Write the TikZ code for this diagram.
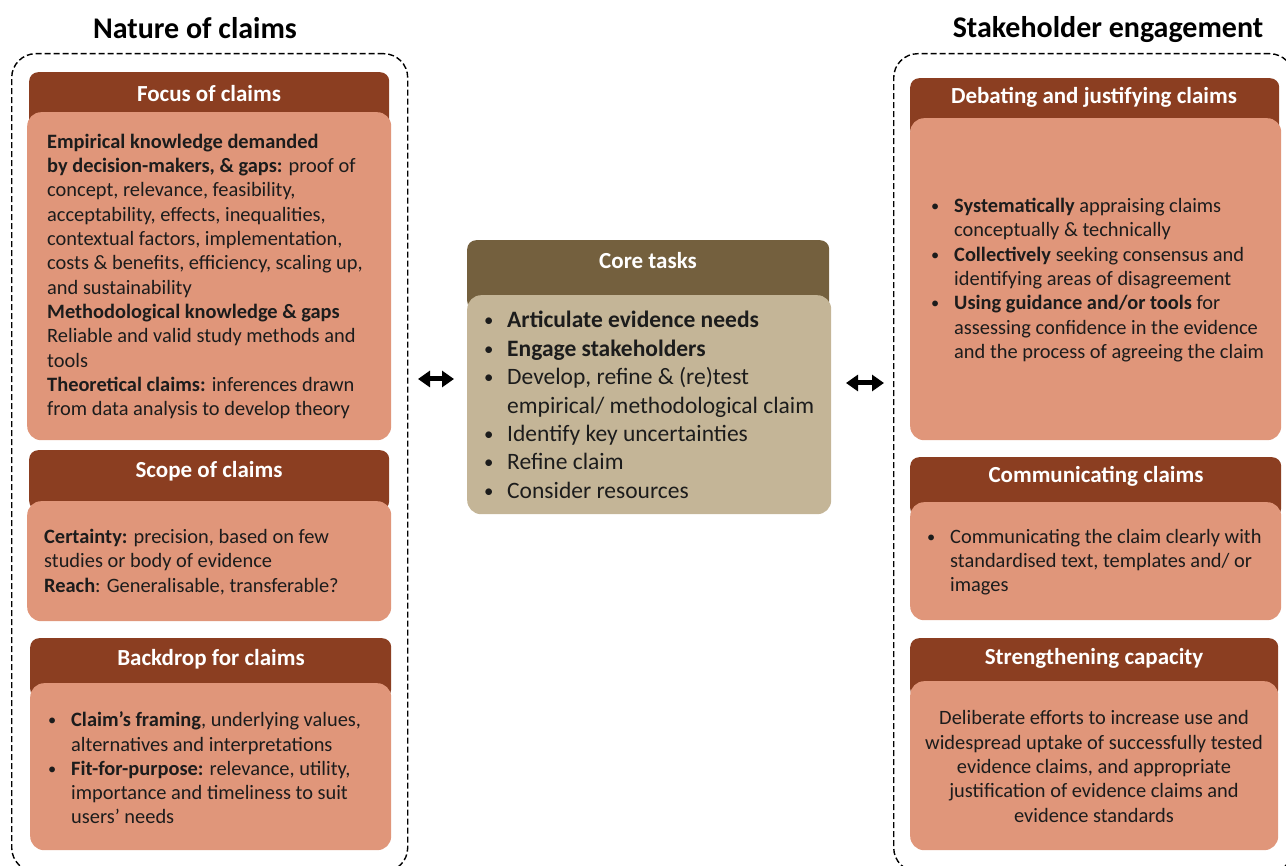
\documentclass[tikz,border=0pt]{standalone}
\usepackage{fontspec}
\setmainfont{Carlito}
\usetikzlibrary{arrows.meta}
\definecolor{hdr}{RGB}{139,62,33}
\definecolor{bdy}{RGB}{224,150,122}
\definecolor{corehdr}{RGB}{116,96,62}
\definecolor{corebdy}{RGB}{196,181,151}
\definecolor{txt}{RGB}{28,28,28}
\newcommand{\bul}[1]{\makebox[#1][l]{\raisebox{0.1ex}{\scalebox{0.8}{•}}}}
\begin{document}
\begin{tikzpicture}[x=1pt,y=-1pt,
  hdrbox/.style={fill=hdr, rounded corners=9pt, anchor=north west, inner sep=0pt},
  corehdrbox/.style={fill=corehdr, rounded corners=9pt, anchor=north west, inner sep=0pt},
  bodybox/.style={fill=bdy, rounded corners=14pt, anchor=north west, inner sep=0pt},
  corebodybox/.style={fill=corebdy, rounded corners=14pt, anchor=north west, inner sep=0pt},
  hdrtext/.style={text=white, inner sep=0pt, font=\fontsize{23}{26}\selectfont\bfseries},
  bodytext/.style={text=txt, inner sep=0pt, align=left, anchor=west, font=\fontsize{20.4}{24.3}\selectfont},
  coretext/.style={text=txt, inner sep=0pt, align=left, anchor=west, font=\fontsize{23.5}{28.4}\selectfont},
  maintitle/.style={text=black, inner sep=0pt, font=\fontsize{30}{34}\selectfont\bfseries},
  region/.style={draw=black, line width=1.4pt, dash pattern=on 6pt off 3pt, rounded corners=24pt, anchor=north west, inner sep=0pt},
  linkarrow/.style={{Triangle[length=12pt,width=16pt]}-{Triangle[length=12pt,width=16pt]}, line width=5pt}
]
\useasboundingbox (0,0) rectangle (1286,866);
\clip (0,0) rectangle (1286,866);

% titles
\node[maintitle] (lefttitle) at (195,28) {Nature of claims};
\node[maintitle] (righttitle) at (1108,30) {Stakeholder engagement};

% dashed regions
\node[region, minimum width=396pt, minimum height=818pt] (leftregion) at (11,53) {};
\node[region, minimum width=400pt, minimum height=818pt] (rightregion) at (893,53) {};

% Focus of claims
\node[hdrbox, minimum width=360pt, minimum height=60pt] (focush) at (29,72) {};
\node[bodybox, minimum width=364pt, minimum height=328pt] (focusb) at (27,112) {};
\node[hdrtext] (focust) at (209,94) {Focus of claims};
\node[bodytext] (focustx) at (47,276.5) {%
\textbf{Empirical knowledge demanded}\\
\textbf{by decision-makers, \& gaps:} proof of\\
concept, relevance, feasibility,\\
acceptability, effects, inequalities,\\
contextual factors, implementation,\\
costs \& benefits, efficiency, scaling up,\\
and sustainability\\
\textbf{Methodological knowledge \& gaps}\\
Reliable and valid study methods and\\
tools\\
\textbf{Theoretical claims:} inferences drawn\\
from data analysis to develop theory};

% Scope of claims
\node[hdrbox, minimum width=360pt, minimum height=60pt] (scopeh) at (29,450) {};
\node[bodybox, minimum width=364pt, minimum height=120pt] (scopeb) at (27,501) {};
\node[hdrtext] (scopet) at (209,471) {Scope of claims};
\node[bodytext] (scopetx) at (44,562) {%
\textbf{Certainty:} precision, based on few\\
studies or body of evidence\\
\textbf{Reach}: Generalisable, transferable?};

% Backdrop for claims
\node[hdrbox, minimum width=361pt, minimum height=60pt] (backh) at (30,638) {};
\node[bodybox, minimum width=361pt, minimum height=167pt] (backb) at (30,683) {};
\node[hdrtext] (backt) at (211,659) {Backdrop for claims};
\node[bodytext] (backtx) at (48,768) {%
\bul{23pt}\textbf{Claim’s framing}, underlying values,\\
\hspace*{23pt}alternatives and interpretations\\
\bul{23pt}\textbf{Fit-for-purpose:} relevance, utility,\\
\hspace*{23pt}importance and timeliness to suit\\
\hspace*{23pt}users’ needs};

% Core tasks
\node[corehdrbox, minimum width=362pt, minimum height=70pt] (coreh) at (467,240) {};
\node[corebodybox, minimum width=364pt, minimum height=219pt] (coreb) at (467,295) {};
\node[hdrtext] (coret) at (648,261) {Core tasks};
\node[coretext] (coretx) at (484,405) {%
\bul{23pt}\textbf{Articulate evidence needs}\\
\bul{23pt}\textbf{Engage stakeholders}\\
\bul{23pt}Develop, refine \& (re)test\\
\hspace*{23pt}empirical/ methodological claim\\
\bul{23pt}Identify key uncertainties\\
\bul{23pt}Refine claim\\
\bul{23pt}Consider resources};

% Debating and justifying claims
\node[hdrbox, minimum width=369pt, minimum height=60pt] (debh) at (910,78) {};
\node[bodybox, minimum width=371pt, minimum height=322pt] (debb) at (910,118) {};
\node[hdrtext] (debt) at (1094,97) {Debating and justifying claims};
\node[bodytext] (debtx) at (931,280) {%
\bul{23pt}\textbf{Systematically} appraising claims\\
\hspace*{23pt}conceptually \& technically\\
\bul{23pt}\textbf{Collectively} seeking consensus and\\
\hspace*{23pt}identifying areas of disagreement\\
\bul{23pt}\textbf{Using guidance and/or tools} for\\
\hspace*{23pt}assessing confidence in the evidence\\
\hspace*{23pt}and the process of agreeing the claim};

% Communicating claims
\node[hdrbox, minimum width=371pt, minimum height=60pt] (comh) at (910,457) {};
\node[bodybox, minimum width=371pt, minimum height=118pt] (comb) at (910,502) {};
\node[hdrtext] (comt) at (1096,476) {Communicating claims};
\node[bodytext] (comtx) at (927,562) {%
\bul{23pt}Communicating the claim clearly with\\
\hspace*{23pt}standardised text, templates and/ or\\
\hspace*{23pt}images};

% Strengthening capacity
\node[hdrbox, minimum width=368pt, minimum height=60pt] (strh) at (910,638) {};
\node[bodybox, minimum width=368pt, minimum height=169pt] (strb) at (910,681) {};
\node[hdrtext] (strt) at (1094,658) {Strengthening capacity};
\node[bodytext, align=center, anchor=center] (strtx) at (1094,766.5) {%
Deliberate efforts to increase use and\\
widespread uptake of successfully tested\\
evidence claims, and appropriate\\
justification of evidence claims and\\
evidence standards};

% arrows
\coordinate (la1) at (418,379);
\coordinate (la2) at (454,379);
\coordinate (ra1) at (846,383);
\coordinate (ra2) at (884,383);
\draw[linkarrow] (la1) -- (la2);
\draw[linkarrow] (ra1) -- (ra2);
\end{tikzpicture}
\end{document}
